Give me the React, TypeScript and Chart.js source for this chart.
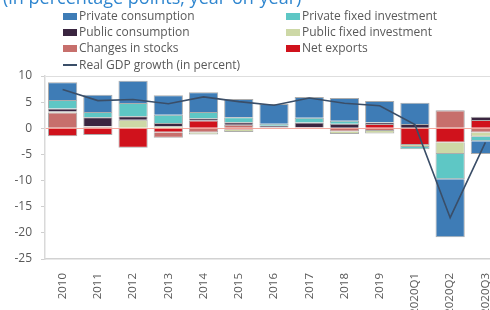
import React, { useEffect, useRef } from "react";
import { Chart, registerables } from "chart.js";

Chart.register(...registerables);

const categories = ["2010", "2011", "2012", "2013", "2014", "2015", "2016", "2017", "2018", "2019", "2020Q1", "2020Q2", "2020Q3"];
const privateConsumption = [3.4, 3.3, 4.25, 3.7, 3.8, 3.5, 3.8, 4.0, 4.35, 4.0, 4.1, -11.1, -2.4];
const privateFixedInvestment = [1.6, 1.0, 2.55, 1.6, 1.2, 0.95, 0.35, 0.9, 0.6, 0.1, -0.4, -4.85, -0.9];
const publicConsumption = [0.6, 1.7, 0.65, 0.6, 0.4, 0.45, 0.3, 0.9, 0.85, 0.3, 0.8, 0.1, 0.6];
const publicFixedInvestment = [0.2, 0.1, 1.65, 0.4, -0.4, -0.4, -0.1, -0.1, -0.5, -0.5, -0.4, -2.2, -0.8];
const changesInStocks = [3.0, 0.3, 0, -1.0, -0.8, 0.7, 0.2, 0, -0.6, -0.5, 0, 3.4, -0.8];
const netExports = [-1.5, -1.3, -3.7, -0.8, 1.5, -0.3, 0, 0.2, 0, 0.8, -3.2, -2.7, 1.6];
const gdpGrowth = [7.4, 5.3, 5.5, 4.7, 6.0, 5.1, 4.4, 5.8, 4.8, 4.3, 0.7, -17.1, -2.7];
const yMin = -25;
const yMax = 10;
const yStep = 5;

const titleText = "(in percentage points; year-on-year)";

const COLORS = {
  privateConsumption: "#3e7cb6",
  privateFixedInvestment: "#5ec7c5",
  publicConsumption: "#3a2540",
  publicFixedInvestment: "#cdd8a6",
  changesInStocks: "#c76f6c",
  netExports: "#d0121c",
  gdp: "#3a4e68",
};

const FONT = "'Open Sans', 'DejaVu Sans', sans-serif";
const TEXT = "#595959";

const legendItems = [
  { label: "Private consumption", color: COLORS.privateConsumption, col: 0, row: 0 },
  { label: "Private fixed investment", color: COLORS.privateFixedInvestment, col: 1, row: 0 },
  { label: "Public consumption", color: COLORS.publicConsumption, col: 0, row: 1 },
  { label: "Public fixed investment", color: COLORS.publicFixedInvestment, col: 1, row: 1 },
  { label: "Changes in stocks", color: COLORS.changesInStocks, col: 0, row: 2 },
  { label: "Net exports", color: COLORS.netExports, col: 1, row: 2 },
];

export default function App() {
  const ref = useRef<HTMLCanvasElement>(null);

  useEffect(() => {
    if (!ref.current) return;
    const bar = (label: string, data: number[], color: string) => ({
      type: "bar" as const,
      label,
      data,
      backgroundColor: color,
      borderColor: "rgba(70,70,70,0.45)",
      borderWidth: 1,
      barPercentage: 0.83,
      categoryPercentage: 1,
      order: 1,
    });
    const chart = new Chart(ref.current, {
      type: "bar",
      data: {
        labels: categories,
        datasets: [
          {
            type: "line" as const,
            label: "Real GDP growth (in percent)",
            data: gdpGrowth,
            borderColor: COLORS.gdp,
            borderWidth: 1.6,
            pointRadius: 0,
            tension: 0,
            order: 0,
            stack: "gdp",
          } as any,
          bar("Net exports", netExports, COLORS.netExports),
          bar("Changes in stocks", changesInStocks, COLORS.changesInStocks),
          bar("Public fixed investment", publicFixedInvestment, COLORS.publicFixedInvestment),
          bar("Public consumption", publicConsumption, COLORS.publicConsumption),
          bar("Private fixed investment", privateFixedInvestment, COLORS.privateFixedInvestment),
          bar("Private consumption", privateConsumption, COLORS.privateConsumption),
        ],
      },
      options: {
        animation: false,
        responsive: false,
        maintainAspectRatio: false,
        layout: { padding: { top: 76, right: 12, left: 0, bottom: 0 } },
        plugins: { legend: { display: false }, tooltip: { enabled: false }, title: { display: false } },
        scales: {
          x: {
            stacked: true,
            grid: { display: false, drawTicks: false },
            border: { display: true, color: "#d2d2d2", width: 1.5 },
            ticks: {
              maxRotation: 90,
              minRotation: 90,
              autoSkip: false,
              padding: 14,
              color: TEXT,
              font: { family: FONT, size: 11.5 },
            },
            afterFit: (s: any) => {
              s.height = 51;
            },
          },
          y: {
            stacked: true,
            min: yMin,
            max: yMax,
            ticks: {
              stepSize: yStep,
              padding: 9,
              color: TEXT,
              font: { family: FONT, size: 12 },
            },
            grid: {
              color: (ctx: any) => {
                const v = ctx.tick ? ctx.tick.value : null;
                if (v === 0) return "rgba(240,130,115,0.7)";
                if (v === yMax) return "#dedede";
                return "rgba(0,0,0,0)";
              },
              tickColor: "#cfcfcf",
              tickLength: 4,
            },
            border: { display: true, color: "#d9d9d9", width: 1.5 },
            afterFit: (s: any) => {
              s.width = 45;
            },
          },
        },
      },
    } as any);
    return () => chart.destroy();
  }, []);

  const rowTop = (row: number) => 16 + row * 16.2 - 8;

  return (
    <div
      style={{
        position: "fixed",
        left: 0,
        top: 0,
        width: 490,
        height: 310,
        overflow: "hidden",
        background: "#ffffff",
        fontFamily: FONT,
      }}
    >
      <canvas
        ref={ref}
        width={515}
        height={310}
        style={{ position: "absolute", left: 0, top: 0, width: 515, height: 310 }}
      />
      <div
        style={{
          position: "absolute",
          left: 3,
          top: -12,
          fontSize: 18,
          lineHeight: "18px",
          color: "#2f86cf",
          whiteSpace: "nowrap",
        }}
      >
        {titleText}
      </div>
      {legendItems.map((it) => (
        <div
          key={it.label}
          style={{
            position: "absolute",
            left: it.col === 0 ? 63 : 286,
            top: rowTop(it.row),
            height: 16,
            display: "flex",
            alignItems: "center",
            fontSize: 12,
            lineHeight: "16px",
            color: TEXT,
            whiteSpace: "nowrap",
          }}
        >
          <span style={{ display: "inline-block", width: 14, height: 7, background: it.color, marginRight: 2 }} />
          <span>{it.label}</span>
        </div>
      ))}
      <div
        style={{
          position: "absolute",
          left: 63,
          top: rowTop(3),
          height: 16,
          display: "flex",
          alignItems: "center",
          fontSize: 12,
          lineHeight: "16px",
          color: TEXT,
          whiteSpace: "nowrap",
        }}
      >
        <span style={{ display: "inline-block", width: 14, height: 2, background: COLORS.gdp, marginRight: 2 }} />
        <span>Real GDP growth (in percent)</span>
      </div>
    </div>
  );
}
